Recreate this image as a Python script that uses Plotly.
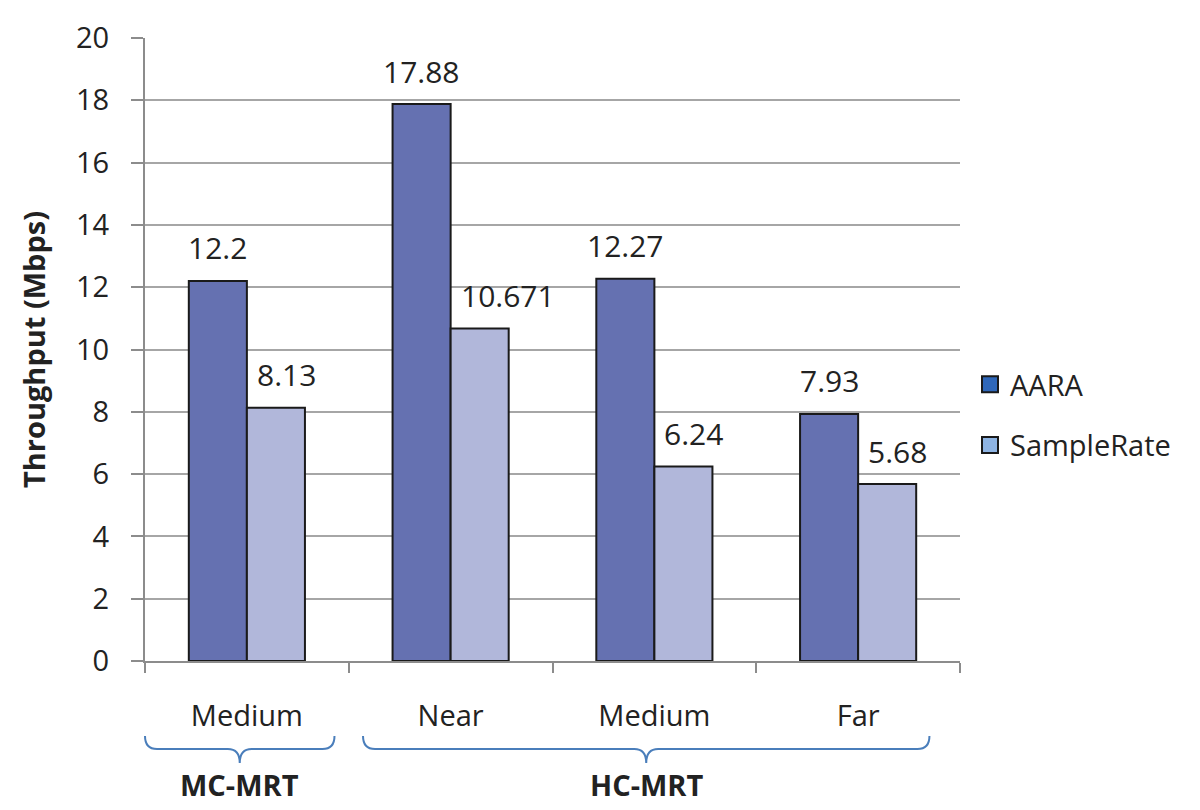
import plotly.graph_objects as go

categories = ["Medium", "Near", "Medium", "Far"]
category_ids = ["MC-MRT Medium", "HC-MRT Near", "HC-MRT Medium", "HC-MRT Far"]
groups = ["MC-MRT", "HC-MRT"]
group_sizes = [1, 3]
aara = [12.2, 17.88, 12.27, 7.93]
samplerate = [8.13, 10.671, 6.24, 5.68]
aara_labels = ["12.2", "17.88", "12.27", "7.93"]
samplerate_labels = ["8.13", "10.671", "6.24", "5.68"]
y_ticks = list(range(0, 21, 2))

FONT = "Open Sans"
TXT = "#222222"
FS = 29
FS_LAB = 30

W, H = 1200, 810
OFF = 8  # page body offset
ML, MT = 145 - OFF, 38 - OFF
PW, PH = 815, 623
MR, MB = W - ML - PW, H - MT - PH

fig = go.Figure()
fig.add_trace(go.Bar(x=category_ids, y=aara, name="AARA", offsetgroup="a",
                     marker=dict(color="#6571B1", line=dict(color="#1A1A1A", width=2)),
                     showlegend=False))
fig.add_trace(go.Bar(x=category_ids, y=samplerate, name="SampleRate", offsetgroup="b",
                     marker=dict(color="#B1B7DA", line=dict(color="#1A1A1A", width=2)),
                     showlegend=False))
# legend entries (legend swatch colours differ from the bars in the original)
fig.add_trace(go.Scatter(x=[category_ids[0]], y=[None], name="AARA", mode="markers",
                         legendgroup="g1",
                         marker=dict(symbol="square", size=16, color="#2F67B9",
                                     line=dict(color="#1A1A1A", width=2))))
fig.add_trace(go.Scatter(x=[category_ids[0]], y=[None], name="SampleRate", mode="markers",
                         legendgroup="g2",
                         marker=dict(symbol="square", size=16, color="#8EB4E3",
                                     line=dict(color="#1A1A1A", width=2))))

n = len(categories)
bargap = 0.43
bar_px = PW / n * (1 - bargap) / 2
for cid, v, lab in zip(category_ids, aara, aara_labels):
    fig.add_annotation(x=cid, y=v, text=lab, showarrow=False, xshift=-bar_px / 2,
                       yshift=33, yanchor="middle", font=dict(family=FONT, size=FS_LAB, color=TXT))
for cid, v, lab in zip(category_ids, samplerate, samplerate_labels):
    fig.add_annotation(x=cid, y=v, text=lab, showarrow=False, xshift=8,
                       xanchor="left", yshift=33, yanchor="middle",
                       font=dict(family=FONT, size=FS_LAB, color=TXT))

# group braces and labels (page pixel -> paper)
def py2paper(py):
    return (661 - py) / PH

brace_color = "#4A7EBB"
start = 0
for g, size in zip(groups, group_sizes):
    x0 = start / n + 0.07 / n if start > 0 else start / n
    x1 = (start + size) / n - (0.07 if start == 0 else 0.15) / n
    xc = (x0 + x1) / 2
    yt, yl, ys = py2paper(736), py2paper(749), py2paper(763)
    rx = 12 / PW
    path = (f"M {x0},{yt} Q {x0},{yl} {x0+rx},{yl} L {xc-rx},{yl} Q {xc},{yl} {xc},{ys} "
            f"Q {xc},{yl} {xc+rx},{yl} L {x1-rx},{yl} Q {x1},{yl} {x1},{yt}")
    fig.add_shape(type="path", path=path, xref="paper", yref="paper",
                  line=dict(color=brace_color, width=2))
    fig.add_annotation(x=xc, y=py2paper(784), xref="paper", yref="paper", text=f"<b>{g}</b>",
                       showarrow=False, yanchor="middle", xanchor="center",
                       font=dict(family=FONT, size=FS, color=TXT))
    start += size

fig.update_layout(
    width=W, height=H,
    margin=dict(l=ML, r=MR, t=MT, b=MB, autoexpand=False),
    paper_bgcolor="white", plot_bgcolor="white",
    barmode="group", bargap=bargap, bargroupgap=0,
    font=dict(family=FONT, size=FS, color=TXT),
    legend=dict(x=(970 - 145) / PW, y=py2paper(415), xanchor="left", yanchor="middle",
                font=dict(family=FONT, size=FS, color=TXT), tracegroupgap=20,
                bgcolor="rgba(0,0,0,0)", itemsizing="trace"),
    showlegend=True,
)
fig.update_xaxes(
    type="category", tickvals=category_ids, ticktext=categories,
    tickson="boundaries", ticks="outside", ticklen=10, tickwidth=2, tickcolor="#8C8C8C",
    showline=True, linecolor="#8C8C8C", linewidth=2, showgrid=False, automargin=False,
    ticklabelstandoff=28, tickfont=dict(family=FONT, size=FS, color=TXT),
)
fig.update_yaxes(
    range=[0, 20], tickvals=y_ticks, ticks="outside", ticklen=12, tickwidth=2,
    tickcolor="#8C8C8C", showline=True, linecolor="#8C8C8C", linewidth=2,
    showgrid=True, gridcolor="#A6A6A6", gridwidth=2, zeroline=False, automargin=False,
    ticklabelstandoff=16, tickfont=dict(family=FONT, size=FS, color=TXT),
    title=dict(text="<b>Throughput (Mbps)</b>", standoff=22,
               font=dict(family=FONT, size=FS, color=TXT)),
)

fig.write_html("out.html")
